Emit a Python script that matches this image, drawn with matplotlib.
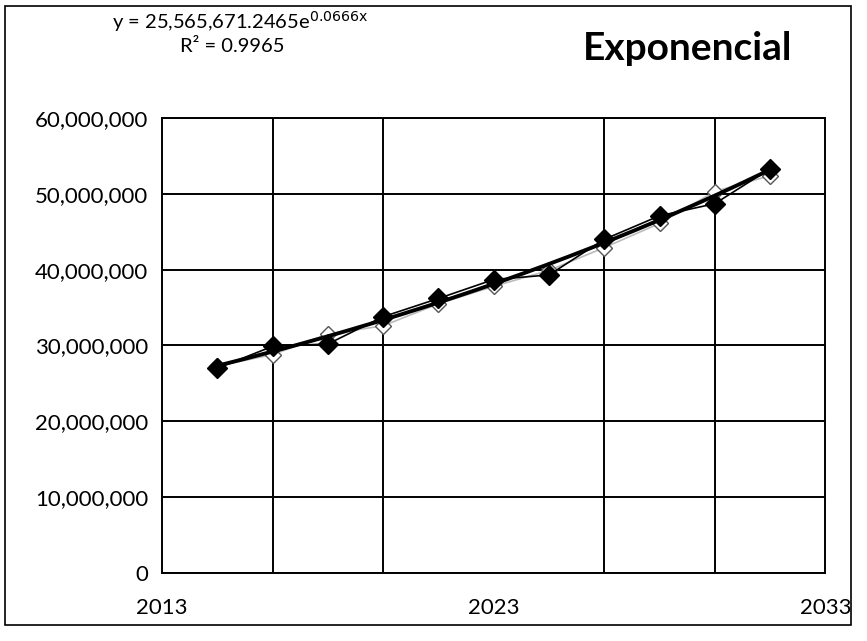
import matplotlib.pyplot as plt
import numpy as np
from matplotlib.patches import Rectangle

plt.rcParams['font.family'] = ['Lato', 'DejaVu Sans']

# Data (x = period index, y = value)
periods = [1, 2, 3, 4, 5, 6, 7, 8, 9, 10, 11]
observed = [27.0e6, 29.9e6, 30.2e6, 33.8e6, 36.2e6, 38.7e6, 39.3e6, 44.0e6, 47.1e6, 48.7e6, 53.3e6]
estimated = [27.3e6, 28.8e6, 31.5e6, 32.6e6, 35.5e6, 37.8e6, 39.9e6, 42.9e6, 46.1e6, 50.3e6, 52.4e6]
tick_pos = [0, 6, 12]
tick_labels = ['2013', '2023', '2033']

# trend line coefficients as printed on the chart
coef_a = 25565671.2465
coef_b = 0.0666

fig = plt.figure(figsize=(8.67, 6.41), dpi=100)
ax = fig.add_axes([0.187, 0.106, 0.765, 0.710])

# outer chart border
fig.patches.append(Rectangle((0.006, 0.025), 0.975, 0.965, transform=fig.transFigure,
                             fill=False, edgecolor='black', linewidth=1.2))

xt = np.linspace(periods[0], periods[-1], 200)
ax.plot(periods, estimated, color='#bbbbbb', linewidth=1.2, marker='D', markersize=8,
        markerfacecolor='white', markeredgecolor='#555555', zorder=3)
ax.plot(periods, observed, color='black', linewidth=1.2, marker='D', markersize=10,
        markerfacecolor='black', markeredgecolor='black', zorder=4)
ax.plot(xt, coef_a * np.exp(coef_b * xt), color='black', linewidth=2.8, zorder=5)

ax.set_xlim(0, 12)
ax.set_ylim(0, 60e6)
ax.set_xticks(tick_pos)
ax.set_xticklabels(tick_labels)
ax.set_xticks(np.arange(0, 13, 2), minor=True)
ax.set_yticks(np.arange(0, 60e6 + 1, 10e6))
ax.yaxis.set_major_formatter(plt.FuncFormatter(lambda v, p: f'{int(v):,}'))
ax.grid(True, which='major', axis='y', color='black', linewidth=1.4)
ax.grid(True, which='minor', axis='x', color='black', linewidth=1.4)
ax.tick_params(axis='y', which='both', length=0, labelsize=16, pad=10)
ax.tick_params(axis='x', which='both', length=0, labelsize=16, pad=18)
for s in ax.spines.values():
    s.set_linewidth(1.4)

fig.text(0.277, 0.967, r'y = 25,565,671.2465e$^{\mathrm{0.0666x}}$', ha='center', va='center', fontsize=14.5)
fig.text(0.268, 0.928, 'R² = 0.9965', ha='center', va='center', fontsize=14.5)
fig.text(0.793, 0.925, 'Exponencial', ha='center', va='center', fontsize=28, fontweight='bold')

fig.savefig('out.png', dpi=100)
